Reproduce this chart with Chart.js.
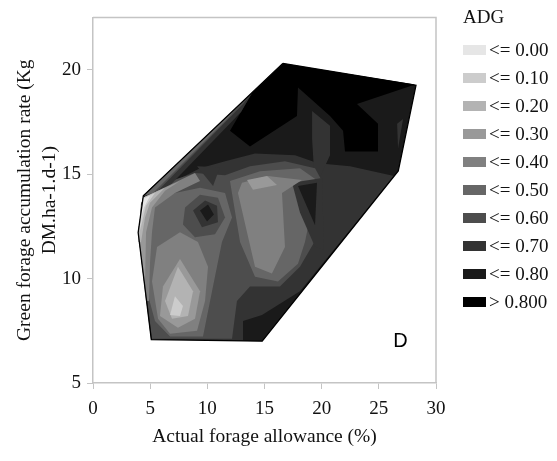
<!DOCTYPE html>
<html>
<head>
<meta charset="utf-8">
<script src="https://cdn.jsdelivr.net/npm/chart.js@4.4.0/dist/chart.umd.min.js"></script>
<style>
    body { margin: 0; background: #fff; }
    #wrap { position: relative; width: 557px; height: 461px; }
    #legend { position: absolute; left: 463px; top: 5px; font-family: "Liberation Serif", serif; font-size: 19px; color: #111; }
    #legend .ttl { height: 24px; line-height: 24px; margin-bottom: 7px; }
    #legend .row { display: flex; align-items: center; height: 28px; }
    #legend .sw { width: 23px; height: 10px; margin-right: 3px; }
</style>
</head>
<body>
<div id="wrap">
    <canvas id="contourChart" width="557" height="461"></canvas>
    <div id="legend"></div>
</div>
<script>
    // ADG classes
    const levelLabels = ['<= 0.00', '<= 0.10', '<= 0.20', '<= 0.30', '<= 0.40', '<= 0.50', '<= 0.60', '<= 0.70', '<= 0.80', '> 0.800'];
    const levelColors = ['#e6e6e6', '#cccccc', '#b3b3b3', '#999999', '#808080', '#666666', '#4d4d4d', '#333333', '#1a1a1a', '#000000'];

    const xTicks = [0, 5, 10, 15, 20, 25, 30];
    const yTicks = [5, 10, 15, 20];

    // contour regions [allowance %, accumulation rate]
    const hullRegion = [[16.6, 20.3], [28.25, 19.25], [26.7, 15.15], [14.8, 7.0], [5.1, 7.08], [3.95, 12.2], [4.4, 13.96]];
    const bodyRegion = [[26.33, 14.91], [22.48, 15.38], [19.68, 15.52], [17.67, 15.9], [14.17, 15.99], [11.55, 15.61], [9.36, 15.28], [7.17, 14.67], [4.37, 13.87], [3.94, 12.22], [5.07, 7.08], [13.12, 7.03], [13.12, 7.97], [14.78, 8.25], [18.1, 9.39], [20.56, 11.04]];
    const topBlack = [[11.98, 17.08], [13.73, 16.32], [17.84, 17.78], [17.93, 19.15], [20.73, 17.78], [21.87, 17.08], [22.04, 16.08], [24.93, 16.08], [24.93, 17.41], [23.09, 18.35], [28.17, 19.29], [16.62, 20.28], [13.9, 18.87]];
    const ridgeStrip = [[19.16, 18.02], [20.73, 17.31], [20.73, 15.9], [19.42, 14.34], [19.16, 16.7]];
    const rightSliver = [[26.6, 17.41], [27.12, 17.64], [26.68, 16.23]];
    const leftField = [[4.2, 13.63], [6.3, 14.58], [8.92, 15.05], [11.55, 14.95], [13.73, 15.38], [16.79, 15.61], [19.42, 15.28], [20.03, 14.67], [19.86, 12.22], [18.1, 10.57], [16.35, 9.62], [13.73, 9.62], [12.59, 8.92], [12.16, 7.12], [5.16, 7.12], [4.02, 12.17]];
    const leftRing = [[4.55, 13.4], [7.17, 14.1], [9.36, 14.34], [11.55, 14.1], [12.16, 12.92], [11.28, 11.75], [10.41, 9.39], [9.62, 7.22], [6.74, 7.22], [5.42, 7.97], [4.72, 9.39], [4.29, 11.75]];
    const midRing = [[11.98, 14.67], [14.61, 15.14], [18.1, 15.28], [19.68, 14.67], [19.16, 13.4], [18.54, 11.75], [17.93, 10.71], [16.18, 9.86], [14.17, 10.09], [12.86, 11.75]];
    const midDarkRing = [[17.41, 14.58], [20.03, 14.81], [20.2, 11.37], [19.42, 11.51], [18.1, 13.16]];
    const midDarkCore = [[17.93, 14.43], [19.59, 14.58], [19.42, 12.55]];
    const midCore = [[12.68, 14.1], [13.03, 14.58], [15.3, 14.91], [18.28, 14.72], [16.53, 14.1], [16.79, 11.51], [15.65, 10.24], [14.17, 10.57], [13.47, 12.22]];
    const midArm = [[13.47, 14.72], [15.22, 14.91], [16.09, 14.48], [13.99, 14.25]];
    const loopOuter = [[8.05, 13.4], [9.36, 14.01], [10.93, 13.87], [11.55, 12.92], [10.67, 12.12], [8.92, 11.98], [7.87, 12.59]];
    const loopInner = [[8.75, 13.26], [9.8, 13.73], [10.85, 13.49], [10.93, 12.69], [9.53, 12.45]];
    const loopCore = [[9.36, 13.26], [10.06, 13.54], [10.58, 13.07], [9.97, 12.73]];
    const notchStep = [[9.1, 15.38], [11.1, 15.33], [10.5, 14.43]];
    const lowerField = [[5.6, 11.51], [7.61, 12.22], [9.18, 11.75], [10.06, 10.57], [9.8, 8.92], [9.1, 7.5], [6.74, 7.36], [5.69, 8.07], [5.16, 9.86]];
    const lowerDiamond = [[7.61, 10.94], [9.36, 9.39], [8.92, 8.07], [7.43, 7.64], [5.86, 8.21], [6.12, 9.62]];
    const lowerInner = [[7.43, 10.57], [8.75, 9.39], [8.31, 8.21], [6.91, 8.07], [6.3, 8.92]];
    const lowerCore = [[7.17, 9.15], [7.87, 8.68], [7.61, 8.21], [6.74, 8.25]];
    // thin bands along the upper-left edge
    const upperBand33 = [[4.37, 13.96], [13.9, 18.87], [12.95, 17.97], [5.69, 13.87]];
    const upperBand4d = [[4.37, 13.96], [13.73, 18.77], [13.12, 18.35], [5.42, 14.06]];
    const upperBand66 = [[4.37, 13.96], [12.42, 18.07], [11.8, 17.69], [5.25, 14.1]];
    // light wedge at the left corner
    const wedge80 = [[4.37, 13.87], [8.92, 15.05], [9.36, 14.67], [7.17, 14.1], [5.42, 13.4], [5.16, 12.22], [4.99, 10.8], [4.9, 8.92], [4.64, 8.92], [3.94, 12.22]];
    const wedge99 = [[4.37, 13.87], [7.61, 14.67], [6.3, 14.2], [5.16, 13.4], [4.64, 12.22], [4.55, 9.86], [4.46, 9.86], [3.94, 12.22]];
    const wedgeB3 = [[4.37, 13.87], [6.3, 14.34], [4.99, 13.63], [4.55, 12.92], [4.2, 11.75], [4.02, 11.75], [3.94, 12.22]];
    const wedgeCC = [[4.37, 13.87], [5.42, 14.1], [4.64, 13.49], [4.29, 12.69], [4.11, 12.31], [3.94, 12.22]];
    const wedgeE6 = [[4.37, 13.82], [4.99, 13.96], [4.46, 13.4], [4.2, 12.92], [4.02, 12.59]];

    // painter's order: region, ADG class index
    const layers = [
        [hullRegion, 8], [bodyRegion, 7], [topBlack, 9], [ridgeStrip, 7], [rightSliver, 7],
        [leftField, 6], [leftRing, 5], [midRing, 5], [midDarkRing, 7], [midDarkCore, 8],
        [midCore, 4], [midArm, 3], [loopOuter, 6], [loopInner, 7], [loopCore, 8], [notchStep, 7],
        [lowerField, 4], [lowerDiamond, 3], [lowerInner, 2], [lowerCore, 1],
        [upperBand33, 7], [upperBand4d, 6], [upperBand66, 5],
        [wedge80, 4], [wedge99, 3], [wedgeB3, 2], [wedgeCC, 1], [wedgeE6, 0]
    ];

    const panelLabel = 'D';
    const panelLabelAt = [26.9, 7.0];

    const serif = '"Liberation Serif", "Times New Roman", serif';

    function closed(pts) {
        const out = pts.map(function (p) { return { x: p[0], y: p[1] }; });
        out.push({ x: pts[0][0], y: pts[0][1] });
        return out;
    }

    const datasets = layers.map(function (layer, i) {
        return {
            label: levelLabels[layer[1]],
            data: closed(layer[0]),
            showLine: true,
            fill: 'shape',
            backgroundColor: levelColors[layer[1]],
            borderColor: levelColors[layer[1]],
            borderWidth: 0,
            pointRadius: 0,
            tension: 0,
            order: layers.length - i + 1
        };
    });

    // hull outline on top
    datasets.push({
        label: 'outline',
        data: closed(hullRegion),
        showLine: true,
        fill: false,
        borderColor: '#000',
        borderWidth: 1.3,
        pointRadius: 0,
        tension: 0,
        order: 0
    });

    const frameAndLabel = {
        id: 'frameAndLabel',
        afterDatasetsDraw: function (chart) {
            const ctx = chart.ctx;
            const a = chart.chartArea;
            ctx.save();
            ctx.strokeStyle = '#c4c4c4';
            ctx.lineWidth = 1.5;
            ctx.beginPath();
            ctx.moveTo(a.left, a.top);
            ctx.lineTo(a.right, a.top);
            ctx.lineTo(a.right, a.bottom);
            ctx.stroke();
            ctx.fillStyle = '#000';
            ctx.font = '20px "Liberation Sans", Arial, sans-serif';
            ctx.textAlign = 'center';
            ctx.textBaseline = 'middle';
            ctx.fillText(panelLabel,
                chart.scales.x.getPixelForValue(panelLabelAt[0]),
                chart.scales.y.getPixelForValue(panelLabelAt[1]));
            ctx.restore();
        }
    };

    new Chart(document.getElementById('contourChart'), {
        type: 'scatter',
        data: { datasets: datasets },
        options: {
            responsive: false,
            animation: false,
            events: [],
            layout: { padding: { top: 12, right: 121, left: 0, bottom: 0 } },
            plugins: {
                legend: { display: false },
                tooltip: { enabled: false }
            },
            scales: {
                x: {
                    type: 'linear',
                    min: 0,
                    max: 30,
                    afterBuildTicks: function (scale) {
                        scale.ticks = xTicks.map(function (v) { return { value: v }; });
                    },
                    afterFit: function (scale) { scale.height = 78; },
                    grid: { drawOnChartArea: false, drawTicks: true, tickLength: 6, color: '#c4c4c4' },
                    border: { display: true, color: '#c4c4c4', width: 1.5 },
                    ticks: { font: { family: serif, size: 19 }, color: '#111', padding: 9 },
                    title: {
                        display: true,
                        text: 'Actual forage allowance (%)',
                        font: { family: serif, size: 19.5 },
                        color: '#111',
                        padding: { top: 0, bottom: 12 }
                    }
                },
                y: {
                    type: 'linear',
                    min: 5,
                    max: 22.5,
                    afterBuildTicks: function (scale) {
                        scale.ticks = yTicks.map(function (v) { return { value: v }; });
                    },
                    afterFit: function (scale) { scale.width = 93; },
                    grid: { drawOnChartArea: false, drawTicks: true, tickLength: 6, color: '#c4c4c4' },
                    border: { display: true, color: '#c4c4c4', width: 1.5 },
                    ticks: { font: { family: serif, size: 19 }, color: '#111', padding: 6 },
                    title: {
                        display: true,
                        text: ['Green forage accumulation rate (Kg', 'DM.ha-1.d-1)'],
                        font: { family: serif, size: 19.5, lineHeight: 1.28 },
                        color: '#111',
                        padding: { top: 12, bottom: 0 }
                    }
                }
            }
        },
        plugins: [frameAndLabel]
    });

    // legend
    let html = '<div class="ttl">ADG</div>';
    levelLabels.forEach(function (lbl, i) {
        const txt = lbl.replace('<', '&lt;').replace('>', '&gt;');
        html += '<div class="row"><span class="sw" style="background:' + levelColors[i] + '"></span>' + txt + '</div>';
    });
    document.getElementById('legend').innerHTML = html;
</script>
</body>
</html>
